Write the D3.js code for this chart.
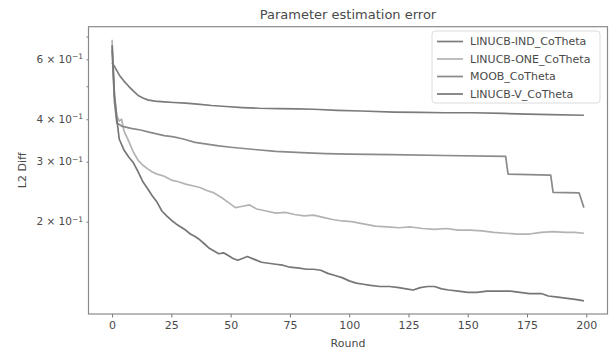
<!DOCTYPE html>
<html>
<head>
<meta charset="utf-8">
<script src="https://cdn.jsdelivr.net/npm/d3@7"></script>
<style>
  body { margin: 0; background: #fff; }
  text { font-family: "DejaVu Sans", sans-serif; fill: #4a4a4a; }
</style>
</head>
<body>
<div id="chart"></div>
<script>
// values, [round, L2 diff]
const indRounds = [0,1,2,3,5,7,9,11,13,15,18,22,26,31,36,42,48,55,62,70,78,85,95,105,119,130,140,152,165,175,185,199];
const indValues = [0.586,0.572,0.556,0.540,0.518,0.500,0.484,0.470,0.462,0.456,0.452,0.450,0.448,0.446,0.443,0.439,0.436,0.433,0.431,0.430,0.429,0.428,0.425,0.423,0.420,0.419,0.418,0.418,0.416,0.414,0.413,0.411];

const oneRounds = [0,1,2,3,4,5,7,9,11,13,15,17,19,22,25,28,31,34,37,40,43,46,49,52,55,58,61,65,69,73,77,81,85,89,93,97,101,106,111,116,121,126,131,136,141,146,151,156,161,166,171,176,181,186,191,195,199];
const oneValues = [0.685,0.47,0.41,0.395,0.40,0.37,0.345,0.32,0.303,0.293,0.286,0.28,0.276,0.272,0.265,0.262,0.258,0.255,0.252,0.247,0.243,0.236,0.228,0.22,0.222,0.224,0.218,0.215,0.212,0.213,0.210,0.208,0.209,0.206,0.203,0.201,0.200,0.197,0.194,0.193,0.192,0.193,0.191,0.190,0.191,0.189,0.189,0.188,0.186,0.185,0.184,0.184,0.186,0.187,0.186,0.186,0.185];

const moobRounds = [0,1,2,4,8,12,16,22,26,30,35,40,45,50,60,69,80,90,100,118,140,166,167,185,186,197,199];
const moobValues = [0.64,0.45,0.39,0.382,0.376,0.372,0.366,0.358,0.355,0.350,0.342,0.338,0.334,0.331,0.326,0.322,0.319,0.317,0.316,0.315,0.313,0.311,0.276,0.274,0.244,0.243,0.220];

const vRounds = [0,1,2,3,5,7,9,11,13,15,17,19,21,23,25,27,29,31,33,35,37,39,41,43,45,47,49,51,53,55,57,60,63,66,69,72,75,79,82,85,88,91,94,97,100,103,106,109,113,117,121,124,127,130,133,136,139,142,146,150,154,158,163,168,172,176,181,184,188,192,196,199];
const vValues = [0.66,0.47,0.40,0.35,0.325,0.31,0.298,0.28,0.262,0.25,0.238,0.228,0.215,0.208,0.202,0.197,0.193,0.189,0.184,0.181,0.177,0.172,0.167,0.164,0.161,0.162,0.159,0.156,0.154,0.156,0.158,0.155,0.152,0.151,0.150,0.149,0.147,0.146,0.145,0.145,0.144,0.141,0.139,0.137,0.134,0.132,0.131,0.130,0.129,0.129,0.128,0.127,0.126,0.128,0.129,0.129,0.127,0.126,0.125,0.124,0.124,0.125,0.125,0.125,0.124,0.123,0.123,0.121,0.120,0.119,0.118,0.117];

const seriesNames = ["LINUCB-IND_CoTheta", "LINUCB-ONE_CoTheta", "MOOB_CoTheta", "LINUCB-V_CoTheta"];
const seriesColors = ["#7b7b7b", "#b3b3b3", "#8a8a8a", "#767676"];
const xTicks = [0, 25, 50, 75, 100, 125, 150, 175, 200];
const yTicks = [0.2, 0.3, 0.4, 0.5, 0.6, 0.7];
const yLabelled = [0.2, 0.3, 0.4, 0.6];

const width = 611, height = 351;
const margin = {top: 26.7, right: 3.5, bottom: 37, left: 88.5};

const series = [
  d3.zip(indRounds, indValues),
  d3.zip(oneRounds, oneValues),
  d3.zip(moobRounds, moobValues),
  d3.zip(vRounds, vValues)
];

const svg = d3.select("#chart").append("svg")
  .attr("width", width).attr("height", height);

// matplotlib style 5% margins
const xExt = [0, 199];
const xPad = (xExt[1] - xExt[0]) * 0.05;
const x = d3.scaleLinear()
  .domain([xExt[0] - xPad, xExt[1] + xPad])
  .range([margin.left, width - margin.right]);

const allVals = series.flat().map(d => d[1]);
const lo = Math.log10(d3.min(allVals)), hi = Math.log10(d3.max(allVals));
const yPad = (hi - lo) * 0.05;
const y = d3.scaleLog()
  .domain([Math.pow(10, lo - yPad), Math.pow(10, hi + yPad)])
  .range([height - margin.bottom, margin.top]);

// x axis
const xAxis = svg.append("g")
  .attr("transform", `translate(0,${height - margin.bottom})`)
  .call(d3.axisBottom(x).tickValues(xTicks).tickSize(3.5).tickPadding(3.5).tickFormat(d3.format("d")));
xAxis.select(".domain").remove();
xAxis.selectAll("line").attr("stroke", "#777");
xAxis.selectAll("text").attr("font-size", 11).attr("fill", "#4a4a4a");

// y axis (only minor ticks on this log range)
const yAxis = svg.append("g")
  .attr("transform", `translate(${margin.left},0)`)
  .call(d3.axisLeft(y).tickValues(yTicks).tickSize(2).tickPadding(3.5).tickFormat(""));
yAxis.select(".domain").remove();
yAxis.selectAll("line").attr("stroke", "#777");

const yLab = svg.append("g");
yLabelled.forEach(v => {
  const t = yLab.append("text")
    .attr("x", margin.left - 5.5)
    .attr("y", y(v))
    .attr("dy", "0.32em")
    .attr("text-anchor", "end")
    .attr("font-size", 10.5);
  t.append("tspan").text(Math.round(v * 10) + " \u00d7 10");
  t.append("tspan").attr("dy", "-0.45em").attr("font-size", 7.5).text("\u22121");
});

// lines
const line = d3.line().x(d => x(d[0])).y(d => y(d[1]));
svg.append("g").selectAll("path")
  .data(series)
  .join("path")
  .attr("d", line)
  .attr("fill", "none")
  .attr("stroke", (d, i) => seriesColors[i])
  .attr("stroke-width", 1.7)
  .attr("stroke-linejoin", "round");

// frame
svg.append("rect")
  .attr("x", margin.left).attr("y", margin.top)
  .attr("width", width - margin.left - margin.right)
  .attr("height", height - margin.top - margin.bottom)
  .attr("fill", "none").attr("stroke", "#8a8a8a").attr("stroke-width", 1.2);

// titles
svg.append("text")
  .attr("x", (margin.left + width - margin.right) / 2).attr("y", 19)
  .attr("text-anchor", "middle").attr("font-size", 13).text("Parameter estimation error");
svg.append("text")
  .attr("x", (margin.left + width - margin.right) / 2).attr("y", 347)
  .attr("text-anchor", "middle").attr("font-size", 11).text("Round");
svg.append("text")
  .attr("transform", `translate(26,${(margin.top + height - margin.bottom) / 2}) rotate(-90)`)
  .attr("text-anchor", "middle").attr("font-size", 11).text("L2 Diff");

// legend
const leg = svg.append("g");
leg.append("rect")
  .attr("x", 432).attr("y", 31).attr("width", 168).attr("height", 72).attr("rx", 3)
  .attr("fill", "#fff").attr("fill-opacity", 0.8).attr("stroke", "#dcdcdc");
seriesNames.forEach((name, i) => {
  const ly = 41.5 + i * 17.5;
  leg.append("line")
    .attr("x1", 437).attr("x2", 463).attr("y1", ly).attr("y2", ly)
    .attr("stroke", seriesColors[i]).attr("stroke-width", 1.7);
  leg.append("text")
    .attr("x", 470).attr("y", ly).attr("dy", "0.35em")
    .attr("font-size", 11).text(name);
});
</script>
</body>
</html>
